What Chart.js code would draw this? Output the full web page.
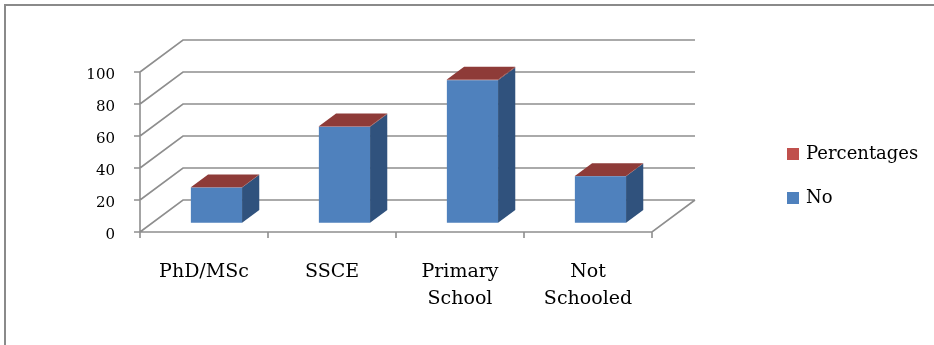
<!DOCTYPE html>
<html>
<head>
<meta charset="utf-8">
<script src="https://cdn.jsdelivr.net/npm/chart.js@4.4.0/dist/chart.umd.min.js"></script>
<style>
  html, body { margin: 0; padding: 0; background: #fff; }
  #wrap { width: 934px; height: 345px; }
</style>
</head>
<body>
<div id="wrap"><canvas id="c" width="934" height="345"></canvas></div>
<script>
// Education level of respondents
const categories = [['PhD/MSc'], ['SSCE'], ['Primary', 'School'], ['Not', 'Schooled']];
const noValues = [22, 60, 89, 29];
const percentageValues = [0.11, 0.30, 0.445, 0.145];
const yTicks = [0, 20, 40, 60, 80, 100];

// Face colours for the 3-D columns
const faces = {
  'No':          { front: '#4F81BD', side: '#30527D', top: '#6E97CB', key: '#4F81BD' },
  'Percentages': { front: '#A9423F', side: '#7A2E2C', top: '#8E3B38', key: '#C0504D' }
};

// Perspective of the 3-D box (back wall offset) and where the columns sit in it
const DEPTH_X = 43, DEPTH_Y = 32;
const COL_FRONT = 0.29, COL_DEPTH = 0.40;
const GRID = '#8e8e8e';
const FONT = '"DejaVu Serif", serif';

const box3d = {
  id: 'box3d',
  beforeDatasetsDraw(chart) {
    const { ctx, chartArea: a, scales: { y } } = chart;
    ctx.save();
    ctx.strokeStyle = GRID;
    ctx.lineWidth = 1.6;
    ctx.beginPath();
    // side wall diagonals and back wall gridlines
    yTicks.forEach(v => {
      const py = y.getPixelForValue(v);
      ctx.moveTo(a.left, py);
      ctx.lineTo(a.left + DEPTH_X, py - DEPTH_Y);
      ctx.lineTo(a.right + DEPTH_X, py - DEPTH_Y);
    });
    // floor
    ctx.moveTo(a.left, a.bottom);
    ctx.lineTo(a.right, a.bottom);
    ctx.lineTo(a.right + DEPTH_X, a.bottom - DEPTH_Y);
    // vertical axis and its ticks
    ctx.moveTo(a.left, y.getPixelForValue(yTicks[yTicks.length - 1]));
    ctx.lineTo(a.left, a.bottom + 6);
    yTicks.forEach(v => {
      const py = y.getPixelForValue(v);
      ctx.moveTo(a.left - 6, py);
      ctx.lineTo(a.left, py);
    });
    // category ticks along the floor edge
    const n = categories.length;
    for (let i = 1; i <= n; i++) {
      const px = a.left + (a.width * i) / n;
      ctx.moveTo(px, a.bottom);
      ctx.lineTo(px, a.bottom + 6);
    }
    ctx.stroke();
    ctx.restore();

    // columns are pushed back into the box
    ctx.save();
    ctx.translate(DEPTH_X * COL_FRONT, -DEPTH_Y * COL_FRONT);
  },
  afterDatasetsDraw(chart) {
    const { ctx } = chart;
    const dx = DEPTH_X * COL_DEPTH, dy = DEPTH_Y * COL_DEPTH;
    const sets = chart.data.datasets;
    for (let i = 0; i < categories.length; i++) {
      let topEl = null, topSet = null;
      sets.forEach((ds, d) => {
        const el = chart.getDatasetMeta(d).data[i];
        const p = el.getProps(['x', 'y', 'base', 'width'], true);
        const r = p.x + p.width / 2;
        const t = Math.min(p.y, p.base), b = Math.max(p.y, p.base);
        ctx.fillStyle = faces[ds.label].side;
        ctx.beginPath();
        ctx.moveTo(r, b);
        ctx.lineTo(r + dx, b - dy);
        ctx.lineTo(r + dx, t - dy);
        ctx.lineTo(r, t);
        ctx.closePath();
        ctx.fill();
        topEl = p; topSet = ds;
      });
      const l = topEl.x - topEl.width / 2, r = topEl.x + topEl.width / 2;
      const t = Math.min(topEl.y, topEl.base);
      ctx.fillStyle = faces[topSet.label].top;
      ctx.beginPath();
      ctx.moveTo(l, t);
      ctx.lineTo(l + dx, t - dy);
      ctx.lineTo(r + dx, t - dy);
      ctx.lineTo(r, t);
      ctx.closePath();
      ctx.fill();
    }
    ctx.restore();
  },
  afterDraw(chart) {
    const { ctx } = chart;
    ctx.save();
    // outer frame
    ctx.strokeStyle = '#8a8a8a';
    ctx.lineWidth = 2;
    ctx.beginPath();
    ctx.moveTo(5, 345);
    ctx.lineTo(5, 5);
    ctx.lineTo(934, 5);
    ctx.stroke();
    // legend, top series first
    ctx.font = '18px ' + FONT;
    ctx.textBaseline = 'middle';
    ctx.fillStyle = '#000';
    const items = chart.data.datasets.slice().reverse();
    items.forEach((ds, k) => {
      const cy = 154 + k * 44;
      ctx.fillStyle = faces[ds.label].key;
      ctx.fillRect(787, cy - 6, 12, 12);
      ctx.fillStyle = '#000';
      ctx.fillText(ds.label, 806, cy);
    });
    ctx.restore();
  }
};

new Chart(document.getElementById('c'), {
  type: 'bar',
  data: {
    labels: categories,
    datasets: [
      { label: 'No', data: noValues, backgroundColor: faces['No'].front, borderWidth: 0, clip: false },
      { label: 'Percentages', data: percentageValues, backgroundColor: faces['Percentages'].front, borderWidth: 0, clip: false }
    ]
  },
  options: {
    responsive: false,
    animation: false,
    devicePixelRatio: 1,
    layout: { padding: { left: 0, top: 72, right: 282, bottom: 0 } },
    plugins: { legend: { display: false }, tooltip: { enabled: false } },
    datasets: { bar: { categoryPercentage: 1.0, barPercentage: 0.4 } },
    scales: {
      x: {
        stacked: true,
        grid: { display: false, drawTicks: false },
        border: { display: false },
        ticks: { color: '#000', font: { family: FONT, size: 19, lineHeight: 1.45 }, padding: 26, maxRotation: 0, autoSkip: false },
        afterFit(s) { s.height = 113; }
      },
      y: {
        stacked: true,
        min: 0, max: 100,
        grid: { display: false, drawTicks: false },
        border: { display: false },
        ticks: { stepSize: 20, color: '#000', font: { family: FONT, size: 15 }, padding: 25, labelOffset: 3 },
        afterFit(s) { s.width = 140; }
      }
    }
  },
  plugins: [box3d]
});
</script>
</body>
</html>
